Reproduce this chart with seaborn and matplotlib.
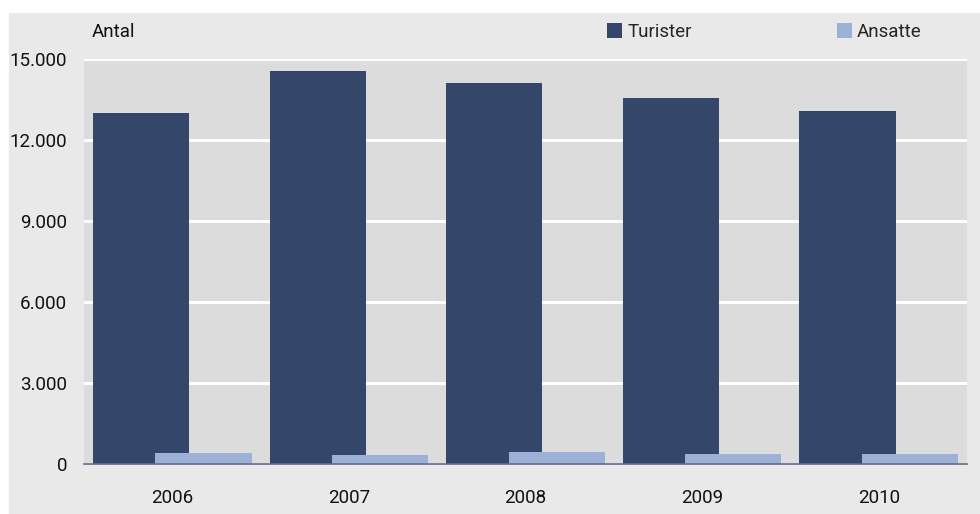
import numpy as np
import pandas as pd
import matplotlib
matplotlib.use("Agg")
import matplotlib.pyplot as plt
from matplotlib.patches import Rectangle, Patch
from matplotlib.ticker import FuncFormatter, FixedLocator
import seaborn as sns

years = ["2006", "2007", "2008", "2009", "2010"]
turister = [13000, 14550, 14100, 13550, 13060]
ansatte = [430, 345, 455, 380, 380]
yticks = [0, 3000, 6000, 9000, 12000, 15000]

NAVY = "#34466a"
LIGHT = "#9db0d6"
PANEL = "#e9e9e9"
PLOTBG = "#dcdcdc"

sns.set_theme(style="white")
plt.rcParams["font.family"] = ["Roboto", "DejaVu Sans"]

fig = plt.figure(figsize=(9.8, 5.14), dpi=100, facecolor="white")
fig.patches.append(Rectangle((9 / 980, 0), 1 - 9 / 980, (514 - 13) / 514,
                             transform=fig.transFigure, facecolor=PANEL,
                             edgecolor="none", zorder=-10))

ax = fig.add_axes([84 / 980, 49.7 / 514, 883 / 980, 405.8 / 514])
ax.set_facecolor(PLOTBG)

idx = np.arange(len(years))
off = 0.177
w = 0.545
sns.barplot(x=idx - off, y=turister, native_scale=True, width=w,
            color=NAVY, saturation=1, ax=ax, zorder=2, label="Turister",
            linewidth=0, edgecolor="none")
sns.barplot(x=idx + off, y=ansatte, native_scale=True, width=w,
            color=LIGHT, saturation=1, ax=ax, zorder=3, label="Ansatte",
            linewidth=0, edgecolor="none")

ax.set_xlim(-0.5, len(years) - 0.5)
ax.set_ylim(0, 15000)
ax.xaxis.set_major_locator(FixedLocator(idx))
ax.set_xticklabels(years)
ax.yaxis.set_major_locator(FixedLocator(yticks))
ax.yaxis.set_major_formatter(FuncFormatter(lambda v, p: f"{int(v):,}".replace(",", ".")))
ax.grid(axis="y", color="white", linewidth=2.2, zorder=1)
ax.set_axisbelow(True)
for s in ["left", "right", "top"]:
    ax.spines[s].set_visible(False)
ax.spines["bottom"].set_color("#5f6d88")
ax.spines["bottom"].set_linewidth(1.2)
ax.spines["bottom"].set_zorder(4)
ax.tick_params(axis="both", length=0, labelsize=13.5, colors="#111111")
ax.tick_params(axis="y", pad=12)
ax.tick_params(axis="x", pad=18)
ax.set_xlabel("")
ax.set_ylabel("")
if ax.get_legend() is not None:
    ax.get_legend().remove()

fig.text(92 / 980, 1 - 32 / 514, "Antal", fontsize=13.5, color="#111111",
         ha="left", va="center")

handles = [Patch(facecolor=NAVY, edgecolor="none", label="Turister"),
           Patch(facecolor=LIGHT, edgecolor="none", label="Ansatte")]
fig.legend(handles=handles, loc="center left",
           bbox_to_anchor=(607 / 980, 1 - 32 / 514), ncol=2, frameon=False,
           fontsize=13.5, handlelength=0.8, handleheight=0.8,
           handletextpad=0.3, columnspacing=7.7, borderaxespad=0,
           borderpad=0)

fig.savefig("out.png", dpi=100, facecolor="white")
